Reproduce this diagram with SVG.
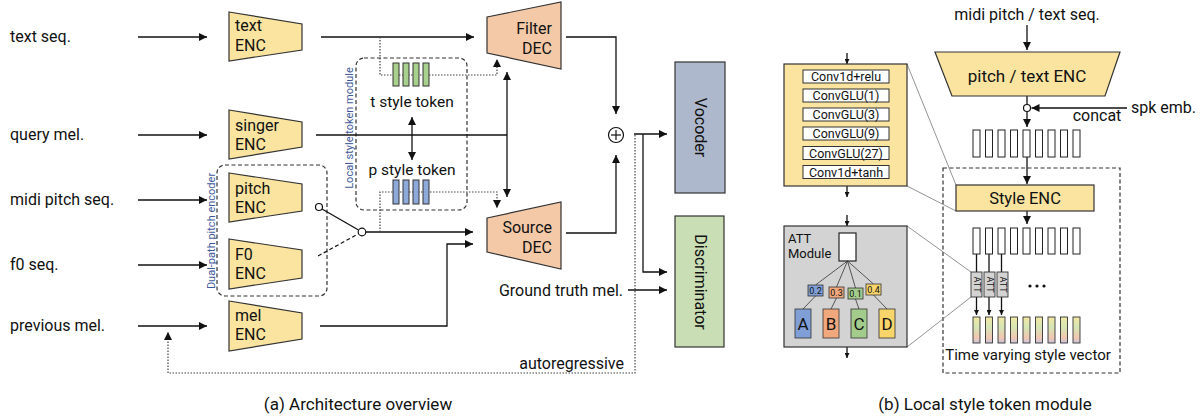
<svg xmlns="http://www.w3.org/2000/svg" width="1202" height="419" viewBox="0 0 1202 419">
<style>
text{font-family:Roboto,"Noto Sans","Liberation Sans",sans-serif;fill:#111}
.lbl{font-size:16px}
.enc{fill:#fae4a0;stroke:#333;stroke-width:1.2}
.dec{fill:#f3c9a8;stroke:#333;stroke-width:1.2}
.nt{font-size:16px}
.ln{fill:none;stroke:#111;stroke-width:1.3}
.dot{fill:none;stroke:#444;stroke-width:1.2;stroke-dasharray:1.5 1.5}
.dsh{fill:none;stroke:#333;stroke-width:1.2;stroke-dasharray:4 2.5}
.zoom{fill:none;stroke:#777;stroke-width:0.8}
.vt{font-size:11px;fill:#3f5a9a}
.cv{fill:#fff;stroke:#333;stroke-width:1}
.cvt{font-size:12.5px;text-anchor:middle}
.tok{stroke:#333;stroke-width:1}
.wb{stroke:#333;stroke-width:0.8}
.wt{font-size:9px;text-anchor:middle}
.lt{font-size:17px;text-anchor:middle}
.thin{fill:none;stroke:#333;stroke-width:0.8}
.sq{fill:#fff;stroke:#222;stroke-width:1}
.cs{fill:url(#gv);stroke:#333;stroke-width:0.9}
.att{fill:#d3d3d3;stroke:#333;stroke-width:0.9}
.cap{font-size:17px;text-anchor:middle}
</style>
<defs>
<marker id="ah" viewBox="0 0 10 10" refX="10" refY="5" markerWidth="10" markerHeight="8" markerUnits="userSpaceOnUse" orient="auto-start-reverse"><path d="M0,0 L10,5 L0,10 z" fill="#111"/></marker>
<marker id="as" viewBox="0 0 10 10" refX="10" refY="5" markerWidth="6" markerHeight="5" markerUnits="userSpaceOnUse" orient="auto-start-reverse"><path d="M0,0 L10,5 L0,10 z" fill="#111"/></marker>
<linearGradient id="gv" x1="0" y1="0" x2="0" y2="1">
<stop offset="0" stop-color="#f4e8a4"/>
<stop offset="0.4" stop-color="#d5e5b4"/>
<stop offset="0.8" stop-color="#f1c7b1"/>
<stop offset="1" stop-color="#c8c5de"/>
</linearGradient>
</defs>

<!-- input labels -->
<g id="inputs">
<text class="lbl" x="10" y="42">text seq.</text>
<text class="lbl" x="10" y="140">query mel.</text>
<text class="lbl" x="10" y="205">midi pitch seq.</text>
<text class="lbl" x="10" y="270">f0 seq.</text>
<text class="lbl" x="10" y="331">previous mel.</text>
</g>

<!-- containers -->
<g id="dual-path-box">
<rect x="217" y="165" width="110" height="131" rx="8" fill="#eef2f8" class="dsh"/>
<text class="vt" transform="translate(215,231) rotate(-90)" text-anchor="middle">Dual-path pitch encoder</text>
</g>
<g id="local-style-box">
<rect x="356" y="58" width="111" height="152" rx="8" fill="#eef2f8" class="dsh"/>
<text class="vt" transform="translate(353,128) rotate(-90)" text-anchor="middle">Local style token module</text>
</g>
<g id="style-module-box">
<rect x="943" y="168" width="177" height="205" class="dsh"/>
</g>

<!-- connectors -->
<g id="connectors">
<line class="ln" x1="138" y1="37" x2="207" y2="37" marker-end="url(#ah)"/>
<line class="ln" x1="138" y1="135" x2="207" y2="135" marker-end="url(#ah)"/>
<line class="ln" x1="138" y1="200" x2="207" y2="200" marker-end="url(#ah)"/>
<line class="ln" x1="138" y1="265" x2="207" y2="265" marker-end="url(#ah)"/>
<line class="ln" x1="138" y1="326" x2="207" y2="326" marker-end="url(#ah)"/>

<line class="ln" x1="321" y1="37" x2="474" y2="37" marker-end="url(#ah)"/>
<polyline class="dot" points="380,37 380,75 497,75 497,59" marker-end="url(#ah)"/>
<line class="ln" x1="316" y1="135" x2="507" y2="135"/>
<line class="ln" x1="507" y1="72" x2="507" y2="197" marker-start="url(#ah)" marker-end="url(#ah)"/>
<line class="ln" x1="412" y1="117" x2="412" y2="160" marker-start="url(#ah)" marker-end="url(#ah)"/>

<line class="ln" x1="322" y1="209" x2="358.5" y2="230"/>
<line x1="318" y1="256" x2="358" y2="234" stroke="#111" stroke-width="1.2" stroke-dasharray="4 2.5"/>
<line class="ln" x1="365.5" y1="232" x2="473" y2="232" marker-end="url(#ah)"/>
<polyline class="dot" points="380,232 380,192 497,192 497,208" marker-end="url(#ah)"/>
<polyline class="ln" points="320,326 447,326 447,244 473,244" marker-end="url(#ah)"/>

<polyline class="ln" points="566,37 616,37 616,114" marker-end="url(#ah)"/>
<polyline class="ln" points="566,233 616,233 616,155" marker-end="url(#ah)"/>
<line class="ln" x1="634" y1="134" x2="667" y2="134" marker-end="url(#ah)"/>
<polyline class="ln" points="643,134 643,272 667,272" marker-end="url(#ah)"/>
<polyline class="dot" points="635,135 635,373 168,373 168,332" marker-end="url(#ah)"/>
<line class="ln" x1="628" y1="290" x2="667" y2="290" marker-end="url(#ah)"/>

<!-- part b -->
<line class="ln" x1="847" y1="53" x2="847" y2="64" stroke-width="1" marker-end="url(#as)"/>
<line class="ln" x1="847" y1="186" x2="847" y2="197" stroke-width="1" marker-end="url(#as)"/>
<line class="ln" x1="847" y1="215" x2="847" y2="226" stroke-width="1" marker-end="url(#as)"/>
<line class="ln" x1="847" y1="347" x2="847" y2="358" stroke-width="1" marker-end="url(#as)"/>
<line class="zoom" x1="907" y1="64" x2="956" y2="185"/>
<line class="zoom" x1="907" y1="186" x2="956" y2="211"/>
<line class="zoom" x1="907" y1="226" x2="971" y2="272"/>
<line class="zoom" x1="907" y1="347" x2="971" y2="297"/>

<line class="ln" x1="1027" y1="25" x2="1027" y2="50" marker-end="url(#ah)"/>
<line class="ln" x1="1027" y1="96" x2="1027" y2="104.5"/>
<line class="ln" x1="1127" y1="108" x2="1031.5" y2="108" marker-end="url(#ah)"/>
<line class="ln" x1="1027" y1="111.5" x2="1027" y2="127" marker-end="url(#ah)"/>
<line class="ln" x1="1027" y1="157" x2="1027" y2="184" marker-end="url(#ah)"/>
<line class="ln" x1="1027" y1="211" x2="1027" y2="224" marker-end="url(#ah)"/>
<line class="ln" x1="976.5" y1="254" x2="976.5" y2="272" stroke-width="1"/>
<line class="ln" x1="989" y1="254" x2="989" y2="272" stroke-width="1"/>
<line class="ln" x1="1001.5" y1="254" x2="1001.5" y2="272" stroke-width="1"/>
<line class="ln" x1="976.5" y1="297" x2="976.5" y2="315" stroke-width="1" marker-end="url(#as)"/>
<line class="ln" x1="989" y1="297" x2="989" y2="315" stroke-width="1" marker-end="url(#as)"/>
<line class="ln" x1="1001.5" y1="297" x2="1001.5" y2="315" stroke-width="1" marker-end="url(#as)"/>
</g>

<!-- encoders -->
<g id="text-enc">
<polygon class="enc" points="229,12 302,24 302,50 229,61"/>
<text class="nt" x="235" y="31">text</text>
<text class="nt" x="235" y="50.5">ENC</text>
</g>
<g id="singer-enc">
<polygon class="enc" points="229,110 302,122 302,147 229,159"/>
<text class="nt" x="235" y="130.5">singer</text>
<text class="nt" x="235" y="150">ENC</text>
</g>
<g id="pitch-enc">
<polygon class="enc" points="229,173 302,184 302,211 229,222"/>
<text class="nt" x="235" y="193.5">pitch</text>
<text class="nt" x="235" y="213">ENC</text>
</g>
<g id="f0-enc">
<polygon class="enc" points="229,239 302,250 302,278 229,289"/>
<text class="nt" x="235" y="259.5">F0</text>
<text class="nt" x="235" y="279">ENC</text>
</g>
<g id="mel-enc">
<polygon class="enc" points="229,301 302,313 302,339 229,351"/>
<text class="nt" x="235" y="320.5">mel</text>
<text class="nt" x="235" y="340">ENC</text>
</g>

<g id="switch">
<circle cx="319" cy="207" r="3.5" fill="#fff" stroke="#111" stroke-width="1.2"/>
<circle cx="362" cy="232" r="3.8" fill="#fff" stroke="#111" stroke-width="1.2"/>
</g>

<g id="t-style-token">
<rect class="tok" x="393" y="63" width="6" height="23" fill="#a9d18e"/>
<rect class="tok" x="403" y="63" width="6" height="23" fill="#a9d18e"/>
<rect class="tok" x="413" y="63" width="6" height="23" fill="#a9d18e"/>
<rect class="tok" x="423" y="63" width="6" height="23" fill="#a9d18e"/>
<text x="412" y="107" font-size="15.5" text-anchor="middle">t style token</text>
</g>
<g id="p-style-token">
<text x="412" y="175" font-size="15.5" text-anchor="middle">p style token</text>
<rect class="tok" x="393" y="180" width="6" height="24" fill="#8eaadb"/>
<rect class="tok" x="403" y="180" width="6" height="24" fill="#8eaadb"/>
<rect class="tok" x="413" y="180" width="6" height="24" fill="#8eaadb"/>
<rect class="tok" x="423" y="180" width="6" height="24" fill="#8eaadb"/>
</g>

<g id="filter-dec">
<polygon class="dec" points="487,17 561,2 561,69 487,53"/>
<text class="nt" x="552" y="34" text-anchor="end">Filter</text>
<text class="nt" x="552" y="53.5" text-anchor="end">DEC</text>
</g>
<g id="source-dec">
<polygon class="dec" points="487,218 561,202 561,269 487,252"/>
<text class="nt" x="552" y="233" text-anchor="end">Source</text>
<text class="nt" x="552" y="252.5" text-anchor="end">DEC</text>
</g>

<g id="sum">
<circle cx="616" cy="135" r="7.5" fill="#fff" stroke="#111" stroke-width="1.2"/>
<line x1="611" y1="135" x2="621" y2="135" stroke="#111" stroke-width="1.2"/>
<line x1="616" y1="130" x2="616" y2="140" stroke="#111" stroke-width="1.2"/>
</g>

<g id="vocoder">
<rect x="675" y="62" width="50" height="131" fill="#aeb8cc" stroke="#333" stroke-width="1.2"/>
<text class="nt" transform="translate(700,127.5) rotate(90)" text-anchor="middle" dominant-baseline="central">Vocoder</text>
</g>
<g id="discriminator">
<rect x="675" y="216" width="49" height="131" fill="#c9deb5" stroke="#333" stroke-width="1.2"/>
<text class="nt" transform="translate(700,282) rotate(90)" text-anchor="middle" dominant-baseline="central">Discriminator</text>
</g>

<g id="labels-a">
<text class="lbl" x="623" y="295.5" text-anchor="end">Ground truth mel.</text>
<text class="lbl" x="624" y="368.5" text-anchor="end">autoregressive</text>
<text class="cap" x="358" y="410">(a) Architecture overview</text>
</g>

<!-- part b -->
<g id="conv-stack">
<rect x="784" y="64" width="123" height="122" fill="#fae4a0" stroke="#333" stroke-width="1.2"/>
<rect class="cv" x="803" y="70" width="86" height="13"/>
<rect class="cv" x="803" y="89" width="86" height="13"/>
<rect class="cv" x="803" y="108" width="86" height="13"/>
<rect class="cv" x="803" y="127" width="86" height="13"/>
<rect class="cv" x="803" y="146.5" width="86" height="13"/>
<rect class="cv" x="803" y="165.5" width="86" height="13"/>
<text class="cvt" x="846" y="81">Conv1d+relu</text>
<text class="cvt" x="846" y="100">ConvGLU(1)</text>
<text class="cvt" x="846" y="119">ConvGLU(3)</text>
<text class="cvt" x="846" y="138">ConvGLU(9)</text>
<text class="cvt" x="846" y="157.5">ConvGLU(27)</text>
<text class="cvt" x="846" y="176.5">Conv1d+tanh</text>
</g>

<g id="att-module">
<rect x="784" y="226" width="123" height="121" fill="#d3d3d3" stroke="#333" stroke-width="1.2"/>
<text x="788" y="242.5" font-size="13">ATT</text>
<text x="788" y="258" font-size="13">Module</text>
<rect x="839" y="233" width="17" height="28" fill="#fff" stroke="#222" stroke-width="1.2"/>
<line class="thin" x1="847.5" y1="261" x2="815.5" y2="285"/>
<line class="thin" x1="847.5" y1="261" x2="836.5" y2="287"/>
<line class="thin" x1="847.5" y1="261" x2="855.5" y2="288"/>
<line class="thin" x1="847.5" y1="261" x2="873.5" y2="284"/>
<line class="thin" x1="815.5" y1="296" x2="803" y2="309"/>
<line class="thin" x1="836.5" y1="298" x2="831" y2="309"/>
<line class="thin" x1="855.5" y1="299" x2="859" y2="309"/>
<line class="thin" x1="873.5" y1="295" x2="887" y2="309"/>
<rect class="wb" x="808" y="285" width="15" height="11" fill="#7f9fd6"/>
<rect class="wb" x="829" y="287" width="15" height="11" fill="#f0a87c"/>
<rect class="wb" x="848" y="288" width="15" height="11" fill="#a3cc8c"/>
<rect class="wb" x="866" y="284" width="15" height="11" fill="#f8d56a"/>
<text class="wt" x="815.5" y="294">0.2</text>
<text class="wt" x="836.5" y="296">0.3</text>
<text class="wt" x="855.5" y="297">0.1</text>
<text class="wt" x="873.5" y="293">0.4</text>
<rect class="wb" x="795" y="309" width="16" height="29" fill="#7f9fd6" stroke-width="1.1"/>
<rect class="wb" x="823" y="309" width="16" height="29" fill="#f0a87c" stroke-width="1.1"/>
<rect class="wb" x="851" y="309" width="16" height="29" fill="#a3cc8c" stroke-width="1.1"/>
<rect class="wb" x="879" y="309" width="16" height="29" fill="#f8d56a" stroke-width="1.1"/>
<text class="lt" x="803" y="330">A</text>
<text class="lt" x="831" y="330">B</text>
<text class="lt" x="859" y="330">C</text>
<text class="lt" x="887" y="330">D</text>
</g>

<g id="pitch-text-enc">
<text class="lbl" x="1027" y="19.5" text-anchor="middle">midi pitch / text seq.</text>
<polygon class="enc" points="935,52 1120,52 1105,96 952,96"/>
<text x="1027" y="82" font-size="17" text-anchor="middle">pitch / text ENC</text>
<circle cx="1027" cy="108" r="3.5" fill="#fff" stroke="#111" stroke-width="1.2"/>
<text class="lbl" x="1131" y="113">spk emb.</text>
<text class="lbl" x="1097" y="120.5" text-anchor="middle">concat</text>
</g>

<g id="input-sequence">
<rect class="sq" x="973" y="130" width="7" height="27"/>
<rect class="sq" x="985.5" y="130" width="7" height="27"/>
<rect class="sq" x="998" y="130" width="7" height="27"/>
<rect class="sq" x="1010.5" y="130" width="7" height="27"/>
<rect class="sq" x="1023" y="130" width="7" height="27"/>
<rect class="sq" x="1035.5" y="130" width="7" height="27"/>
<rect class="sq" x="1048" y="130" width="7" height="27"/>
<rect class="sq" x="1060.5" y="130" width="7" height="27"/>
<rect class="sq" x="1073" y="130" width="7" height="27"/>
</g>

<g id="style-enc">
<rect x="956" y="185" width="138" height="26" fill="#fae4a0" stroke="#333" stroke-width="1.2"/>
<text x="1025" y="204" font-size="16.5" text-anchor="middle">Style ENC</text>
</g>

<g id="style-sequence">
<rect class="sq" x="973" y="228" width="7" height="26"/>
<rect class="sq" x="985.5" y="228" width="7" height="26"/>
<rect class="sq" x="998" y="228" width="7" height="26"/>
<rect class="sq" x="1010.5" y="228" width="7" height="26"/>
<rect class="sq" x="1023" y="228" width="7" height="26"/>
<rect class="sq" x="1035.5" y="228" width="7" height="26"/>
<rect class="sq" x="1048" y="228" width="7" height="26"/>
<rect class="sq" x="1060.5" y="228" width="7" height="26"/>
<rect class="sq" x="1073" y="228" width="7" height="26"/>
</g>

<g id="att-blocks">
<rect class="att" x="971" y="272" width="11" height="25"/>
<rect class="att" x="984" y="272" width="11" height="25"/>
<rect class="att" x="997" y="272" width="11" height="25"/>
<text font-size="9" transform="translate(976.5,284.5) rotate(90)" text-anchor="middle" dominant-baseline="central">ATT</text>
<text font-size="9" transform="translate(989.5,284.5) rotate(90)" text-anchor="middle" dominant-baseline="central">ATT</text>
<text font-size="9" transform="translate(1002.5,284.5) rotate(90)" text-anchor="middle" dominant-baseline="central">ATT</text>
<circle cx="1030" cy="286" r="1.6" fill="#111"/>
<circle cx="1037" cy="286" r="1.6" fill="#111"/>
<circle cx="1044" cy="286" r="1.6" fill="#111"/>
</g>

<g id="style-vector">
<rect class="cs" x="973" y="317" width="7" height="26"/>
<rect class="cs" x="985.5" y="317" width="7" height="26"/>
<rect class="cs" x="998" y="317" width="7" height="26"/>
<rect class="cs" x="1010.5" y="317" width="7" height="26"/>
<rect class="cs" x="1023" y="317" width="7" height="26"/>
<rect class="cs" x="1035.5" y="317" width="7" height="26"/>
<rect class="cs" x="1048" y="317" width="7" height="26"/>
<rect class="cs" x="1060.5" y="317" width="7" height="26"/>
<rect class="cs" x="1073" y="317" width="7" height="26"/>
<text x="1028" y="360" font-size="15" text-anchor="middle">Time varying style vector</text>
</g>

<g id="labels-b">
<text class="cap" x="985" y="410">(b) Local style token module</text>
</g>
</svg>
